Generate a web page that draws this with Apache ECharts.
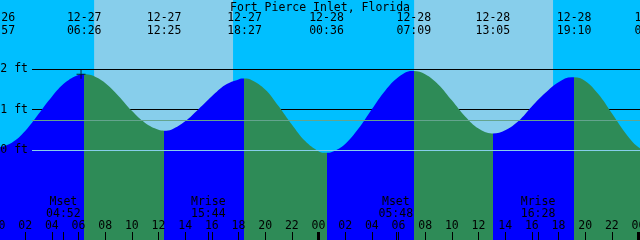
<!DOCTYPE html>
<html>
<head>
<meta charset="utf-8">
<script src="https://cdn.jsdelivr.net/npm/echarts@6/dist/echarts.min.js"></script>
<style>html,body{margin:0;padding:0;background:#fff}#c{width:640px;height:240px}</style>
</head>
<body>
<div id="c"></div>
<script>
// hours since 12-27 00:00
const tideHours = [-0.05, 0, 1, 2, 3, 4, 5, 6, 6.43, 7, 8, 9, 10, 11, 12, 12.42,
  13, 14, 15, 16, 17, 18, 18.45, 19, 20, 21, 22, 23, 24, 24.6,
  25, 26, 27, 28, 29, 30, 31, 31.15, 32, 33, 34, 35, 36, 37, 37.08,
  38, 39, 40, 41, 42, 43, 43.17, 44, 45, 46, 47, 48, 49];
const tideFeet = [0.06, 0.06, 0.18, 0.47, 0.89, 1.32, 1.67, 1.86, 1.88, 1.85, 1.66, 1.34, 0.97, 0.67, 0.50, 0.48,
  0.51, 0.71, 1.01, 1.33, 1.61, 1.75, 1.77, 1.73, 1.50, 1.09, 0.63, 0.22, -0.03, -0.07,
  -0.05, 0.15, 0.53, 1.01, 1.47, 1.81, 1.96, 1.96, 1.88, 1.62, 1.23, 0.83, 0.53, 0.41, 0.41,
  0.49, 0.72, 1.08, 1.41, 1.68, 1.80, 1.80, 1.71, 1.38, 0.91, 0.43, 0.07, -0.06];

const extremeHours = [-0.05, 6.43, 12.42, 18.45, 24.6, 31.15, 37.08, 43.17, 49.0];
const extremeFeet  = [0.06, 1.88, 0.48, 1.77, -0.07, 1.96, 0.41, 1.80, -0.06];
const extremeDates = ['12-26', '12-27', '12-27', '12-27', '12-28', '12-28', '12-28', '12-28', '12-29'];
const extremeTimes = ['23:57', '06:26', '12:25', '18:27', '00:36', '07:09', '13:05', '19:10', '01:00'];

const hourTicks = [0, 2, 4, 6, 8, 10, 12, 14, 16, 18, 20, 22, 24, 26, 28, 30, 32, 34, 36, 38, 40, 42, 44, 46, 48];
const midnightTicks = [0, 24, 48];

const moonHours  = [4.867, 15.733, 29.8, 40.467];
const moonEvents = ['Mset', 'Mrise', 'Mset', 'Mrise'];
const moonTimes  = ['04:52', '15:44', '05:48', '16:28'];

const daylight = [[7.17, 17.59], [31.17, 41.59]];

const levelTicks = [0, 1, 2];
const meanLevel = 0.74;
const markerPoint = [6.19, 1.88];

const FONT = 'DejaVu Sans Mono';
const FS = 11.5;
const X_MIN = -2, X_MAX = 50, Y_MIN = -2.2305, Y_MAX = 3.7175;

function nearestIdx(arr, v) {
  let best = 0;
  for (let i = 1; i < arr.length; i++) if (Math.abs(arr[i] - v) < Math.abs(arr[best] - v)) best = i;
  return best;
}
function pad2(n) { return (n < 10 ? '0' : '') + n; }

const pieces = [];
for (let i = 0; i < extremeHours.length - 1; i++) {
  pieces.push({
    gte: extremeHours[i],
    lt: i === extremeHours.length - 2 ? extremeHours[i + 1] + 1 : extremeHours[i + 1],
    color: extremeFeet[i] < extremeFeet[i + 1] ? '#0000FF' : '#2E8B57'
  });
}

const tideData = tideHours.map((h, i) => [h, tideFeet[i]]);

const chart = echarts.init(document.getElementById('c'), null, { renderer: 'canvas' });
const baseX = { type: 'value', min: X_MIN, max: X_MAX, gridIndex: 0, z: 10,
  axisLine: { show: false, onZero: false }, splitLine: { show: false } };

chart.setOption({
  animation: false,
  title: {
    text: 'Fort Pierce Inlet, Florida', left: 'center', top: -3, z: 10,
    textStyle: { fontFamily: FONT, fontSize: FS, fontWeight: 'normal', color: '#000', lineHeight: 13 }
  },
  grid: [
    { left: -28.17, right: -25.17, top: 0, bottom: 0, show: true, backgroundColor: '#00BFFF', borderWidth: 0,
      containLabel: false, outerBoundsMode: 'none' },
    { left: 32, right: 0, top: 0, bottom: 0, containLabel: false, outerBoundsMode: 'none' }
  ],
  xAxis: [
    Object.assign({}, baseX, {
      position: 'bottom',
      axisTick: { show: true, inside: true, length: 8, customValues: hourTicks, lineStyle: { color: '#000', width: 1 } },
      axisLabel: { show: true, inside: true, margin: 8, customValues: hourTicks, hideOverlap: false,
        fontFamily: FONT, fontSize: FS, color: '#000',
        formatter: v => pad2(Math.round(v) % 24) }
    }),
    Object.assign({}, baseX, {
      position: 'top',
      axisTick: { show: false },
      axisLabel: { show: true, inside: true, margin: 12, customValues: extremeHours, hideOverlap: false,
        fontFamily: FONT, fontSize: FS, color: '#000', lineHeight: 13, align: 'center',
        formatter: v => { const i = nearestIdx(extremeHours, v); return extremeDates[i] + '\n' + extremeTimes[i]; } }
    }),
    Object.assign({}, baseX, {
      position: 'bottom',
      axisTick: { show: true, inside: true, length: 8, customValues: moonHours, lineStyle: { color: '#000', width: 1 } },
      axisLabel: { show: true, inside: true, margin: 20, customValues: moonHours, hideOverlap: false,
        fontFamily: FONT, fontSize: FS, color: '#000', lineHeight: 12, align: 'center',
        formatter: v => { const i = nearestIdx(moonHours, v); return moonEvents[i] + '\n' + moonTimes[i]; } }
    }),
    Object.assign({}, baseX, {
      position: 'bottom',
      axisTick: { show: true, inside: true, length: 8, customValues: midnightTicks, lineStyle: { color: '#000', width: 3 } },
      axisLabel: { show: false }
    }),
    { type: 'value', gridIndex: 1, min: 0, max: 1, show: false }
  ],
  yAxis: [
    { type: 'value', gridIndex: 0, min: Y_MIN, max: Y_MAX, show: false },
    { type: 'value', gridIndex: 1, min: Y_MIN, max: Y_MAX, z: 10,
      axisLine: { show: false, onZero: false }, axisTick: { show: false }, splitLine: { show: false },
      axisLabel: { show: true, margin: 4, customValues: levelTicks,
        fontFamily: FONT, fontSize: FS, color: '#000', formatter: v => v + ' ft' } }
  ],
  visualMap: {
    type: 'piecewise', show: false, dimension: 0, seriesIndex: 2,
    pieces: pieces, outOfRange: { color: '#2E8B57' }
  },
  series: [
    { type: 'line', xAxisIndex: 0, yAxisIndex: 0, data: [], z: 1, silent: true,
      markArea: { silent: true, z: 1, itemStyle: { color: '#87CEEB', opacity: 1 },
        data: daylight.map(d => [{ xAxis: d[0] }, { xAxis: d[1] }]) } },
    { type: 'line', xAxisIndex: 4, yAxisIndex: 1, data: [], z: 1.5, silent: true,
      markLine: { silent: true, z: 1.5, symbol: ['none', 'none'], label: { show: false },
        lineStyle: { color: '#000', width: 1, type: 'solid' },
        data: [{ yAxis: 2 }, { yAxis: 1 }] } },
    { type: 'line', xAxisIndex: 0, yAxisIndex: 0, data: tideData, z: 2, silent: true,
      smooth: 0.4, showSymbol: false, symbol: 'none',
      lineStyle: { width: 0, opacity: 0 },
      areaStyle: { opacity: 1, origin: 'start' } },
    { type: 'line', xAxisIndex: 4, yAxisIndex: 1, data: [], z: 3, silent: true,
      markLine: { silent: true, z: 3, symbol: ['none', 'none'], label: { show: false },
        lineStyle: { width: 1, type: 'solid' },
        data: [
          { yAxis: 0, lineStyle: { color: '#87CEEB', width: 1, type: 'solid' } },
          { yAxis: meanLevel, lineStyle: { color: '#64A48E', width: 1, type: 'solid' } }
        ] } },
    { type: 'scatter', xAxisIndex: 0, yAxisIndex: 0, z: 4, silent: true,
      data: [markerPoint],
      symbol: 'path://M0,4h9v1h-9z M4,0h1v9h-1z', symbolSize: 9,
      itemStyle: { color: '#000' } }
  ]
});
</script>
</body>
</html>
